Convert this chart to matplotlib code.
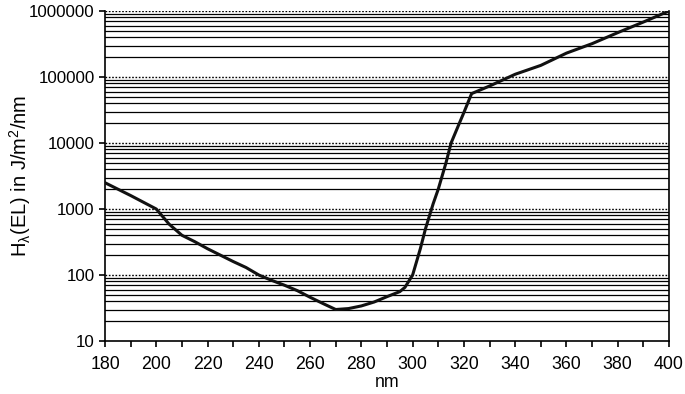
import matplotlib
matplotlib.use("Agg")
import matplotlib.pyplot as plt
import numpy as np

# Data (wavelength nm, exposure limit J/m^2/nm)
wavelength = [180, 190, 200, 205, 210, 215, 220, 225, 230, 235, 240, 245, 250,
              255, 260, 265, 270, 275, 280, 285, 290, 295, 297, 300, 303, 305,
              308, 310, 313, 315, 318, 320, 323, 330, 340, 350, 360, 370,
              380, 390, 400]
exposure = [2500, 1600, 1000, 590, 400, 320, 250, 200, 160, 130, 100, 83, 70,
            58, 46, 37, 30, 31, 34, 39, 47, 56, 65, 100, 250, 500,
            1200, 2000, 5000, 10000, 19000, 29000, 56000, 73000, 110000,
            150000, 230000, 320000, 470000, 680000, 1000000]

y_ticks = [10, 100, 1000, 10000, 100000, 1000000]
y_ticklabels = ["10", "100", "1000", "10000", "100000", "1000000"]
x_ticks = list(range(180, 401, 20))

plt.rcParams['font.family'] = ['Liberation Sans', 'DejaVu Sans']
plt.rcParams['mathtext.default'] = 'regular'

fig = plt.figure(figsize=(6.85, 3.94), dpi=100)
ax = fig.add_axes([105 / 685, 1 - 341 / 394, 564 / 685, 330 / 394])

# grid: solid minor lines, dotted major lines
for dec in y_ticks[:-1]:
    for k in range(2, 10):
        ax.axhline(dec * k, color='black', linewidth=0.9, zorder=1)
for dec in y_ticks[1:]:
    ax.axhline(dec, color='black', linewidth=1.0, linestyle=(0, (1.2, 1.2)), zorder=1)

ax.plot(wavelength, exposure, color='#111111', linewidth=2.2, zorder=3)

ax.set_yscale('log')
ax.set_xlim(180, 400)
ax.set_ylim(10, 1000000)
ax.set_yticks(y_ticks)
ax.set_yticklabels(y_ticklabels)
ax.yaxis.set_minor_locator(matplotlib.ticker.NullLocator())
ax.set_xticks(x_ticks)
ax.set_xticks(range(190, 400, 20), minor=True)

ax.tick_params(axis='both', which='both', direction='out', length=4.5, width=1.2,
               colors='black')
ax.tick_params(axis='y', labelsize=12.2, pad=3)
ax.tick_params(axis='x', labelsize=12.8, pad=6)

ax.spines['top'].set_visible(False)
for s in ['left', 'bottom', 'right']:
    ax.spines[s].set_linewidth(1.2)

ax.set_xlabel('nm', fontsize=12.8, labelpad=1)
ax.set_ylabel(r'H$_\lambda$(EL) in J/m$^2$/nm', fontsize=14.5)
ax.yaxis.set_label_coords(-0.128, 0.5)

fig.savefig('out.png', dpi=100)
